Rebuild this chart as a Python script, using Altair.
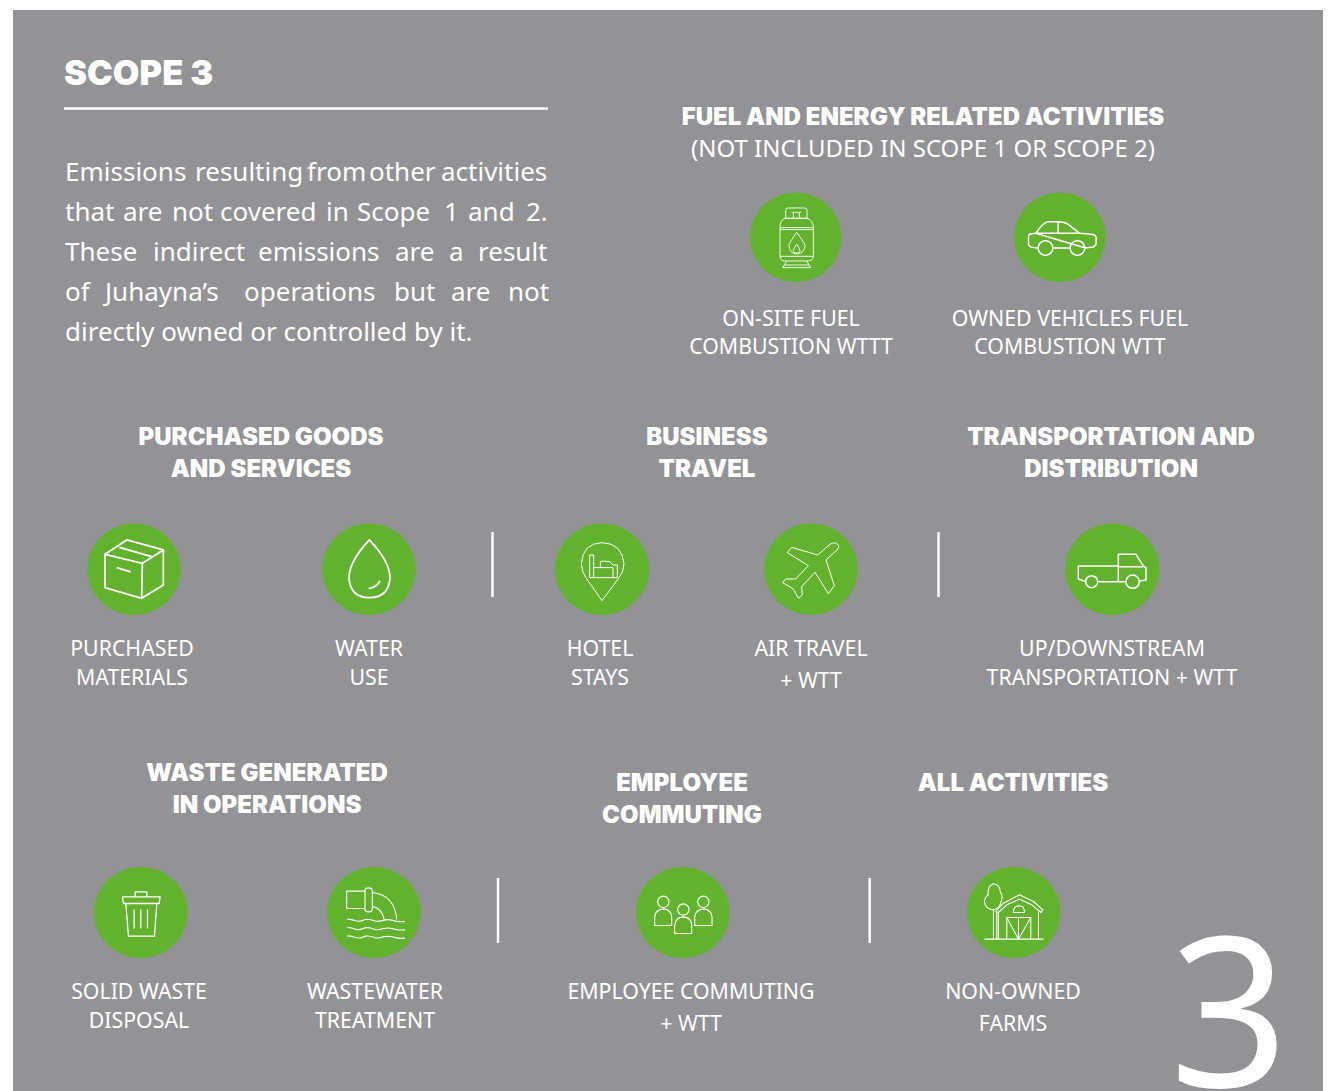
import re
import altair as alt
import pandas as pd

W, H = 1316, 1083
GRAY, GREEN, WHITE = "#939297", "#62B22D", "#FFFFFF"
HEAD_FONT, BODY_FONT = "Inter", "Noto Sans"

panel_x = [13]; panel_x2 = [1323]; panel_y = [10]; panel_y2 = [1091]

head_left = [("SCOPE 3", 64, 75)]
headings = [
    ("FUEL AND ENERGY RELATED ACTIVITIES", 923, 118),
    ("PURCHASED GOODS", 261, 438), ("AND SERVICES", 261, 470),
    ("BUSINESS", 707, 438), ("TRAVEL", 707, 470),
    ("TRANSPORTATION AND", 1111, 438), ("DISTRIBUTION", 1111, 470),
    ("WASTE GENERATED", 267, 774), ("IN OPERATIONS", 267, 806),
    ("EMPLOYEE", 682, 784), ("COMMUTING", 682, 816),
    ("ALL ACTIVITIES", 1013, 784),
]
sub_heading = [("(NOT INCLUDED IN SCOPE 1 OR SCOPE 2)", 923, 150)]
labels = [
    ("ON-SITE FUEL", 791, 320), ("COMBUSTION WTTT", 791, 348),
    ("OWNED VEHICLES FUEL", 1070, 320), ("COMBUSTION WTT", 1070, 348),
    ("PURCHASED", 132, 650), ("MATERIALS", 132, 679),
    ("WATER", 369, 650), ("USE", 369, 679),
    ("HOTEL", 600, 650), ("STAYS", 600, 679),
    ("AIR TRAVEL", 811, 650), ("+ WTT", 811, 682),
    ("UP/DOWNSTREAM", 1112, 650), ("TRANSPORTATION + WTT", 1112, 679),
    ("SOLID WASTE", 139, 993), ("DISPOSAL", 139, 1022),
    ("WASTEWATER", 375, 993), ("TREATMENT", 375, 1022),
    ("EMPLOYEE COMMUTING", 691, 993), ("+ WTT", 691, 1025),
    ("NON-OWNED", 1013, 993), ("FARMS", 1013, 1025),
]
body_words = [
    ("Emissions", 65, 173), ("resulting", 195, 173), ("from", 307, 173), ("other", 369, 173), ("activities", 441, 173),
    ("that", 65, 213), ("are", 123, 213), ("not", 172, 213), ("covered", 220, 213), ("in", 326, 213),
    ("Scope", 357, 213), ("1", 444, 213), ("and", 468, 213), ("2.", 526, 213),
    ("These", 65, 253), ("indirect", 153, 253), ("emissions", 258, 253), ("are", 395, 253), ("a", 449, 253), ("result", 478, 253),
    ("of", 65, 293), ("Juhayna’s", 105, 293), ("operations", 244, 293), ("but", 394, 293), ("are", 451, 293), ("not", 508, 293),
    ("directly owned or controlled by it.", 65, 333),
]
big_digit = [("3", 1229, 1025)]

rule_h = [(64, 548, 108.5)]
rule_v = [(492.5, 532, 597), (938.5, 532, 597), (498, 878, 943), (869.7, 878, 943)]

def circ(cx, cy, r):
    k = 0.5523 * r
    return (f"M{cx-r} {cy} C{cx-r} {cy-k} {cx-k} {cy-r} {cx} {cy-r} "
            f"C{cx+k} {cy-r} {cx+r} {cy-k} {cx+r} {cy} "
            f"C{cx+r} {cy+k} {cx+k} {cy+r} {cx} {cy+r} "
            f"C{cx-k} {cy+r} {cx-r} {cy+k} {cx-r} {cy} Z ")

def wave(y):
    return (f"M787 {y} Q800 {y} 812 {y+5} Q825 {y+9} 840 {y+1} Q855 {y-1} 868 {y+5} "
            f"Q880 {y+9} 895 {y+3} Q910 {y} 922 {y+3} Q935 {y+9} 960 {y+7} ")

# icon outlines, drawn on a 3x grid; (name, centre x, centre y, rx, ry, grid cx, grid cy, line width, path)
icons = [
    ("gas", 795.7, 237.3, 45.7, 44.7, 167, 157, 0.9,
     "M137 100 L137 76 Q137 69 144 69 L194 69 Q201 69 201 76 L201 100 Z M155 82 L183 82 M160 82 L160 98 M178 82 L178 98 "
     "M135 100 L200 100 Q220 105 220 128 L220 215 Q220 226 205 228 L133 228 Q120 226 120 215 L120 128 Q120 105 135 100 Z "
     "M120 128 L220 128 M120 134 L220 134 M120 214 L220 214 "
     "M170 142 Q150 170 147 180 Q147 205 170 207 Q195 205 195 180 Q190 170 170 142 Z "
     "M170 178 Q158 195 160 200 Q170 210 180 200 Q182 195 170 178 Z "
     "M140 228 L128 248 L212 248 L200 228 M133 240 L207 240"),
    ("car", 1059.8, 237.3, 45.7, 44.7, 960, 157, 1.5,
     "M888 145 L870 147 Q866 150 866 160 L866 178 Q868 188 893 189 " + circ(917, 189, 22) +
     "M941 189 L990 189 " + circ(1013, 189, 22) +
     "M1037 189 L1060 186 Q1069 182 1069 175 L1069 158 Q1068 150 1055 148 L1020 145 L985 118 Q975 110 955 110 "
     "L925 110 Q910 112 888 145 Z M888 145 L1020 145 M955 112 L955 145"),
    ("box", 134, 569.3, 46.7, 45.7, 162, 163, 1.8,
     "M75 118 L140 75 L250 105 L187 145 Z M75 118 L75 218 L185 250 L187 145 M185 250 L250 210 L250 105 "
     "M118 97 L215 125 M110 158 L152 171"),
    ("drop", 369, 569.3, 46.7, 45.7, 867, 163, 1.8,
     "M868 75 Q930 140 930 190 Q925 248 868 248 Q812 248 807 190 Q807 140 868 75 Z M866 221 Q890 218 900 198"),
    ("hotel", 602, 569.3, 47, 45.7, 172, 163, 1.0,
     "M172 257 L125 190 Q110 170 110 145 Q115 85 172 83 Q232 85 238 145 Q238 170 222 190 Z "
     "M135 120 L135 188 L147 188 L147 120 Z M147 158 L205 158 L205 188 L147 188 "
     "M167 158 L167 140 Q170 137 195 140 L205 150 L218 150 L218 188 L205 188"),
    ("plane", 811, 569.3, 46.7, 45.7, 798, 163, 1.0,
     "M880 90 Q870 78 855 88 L818 120 L740 97 L727 113 L790 152 L752 192 L722 192 L713 203 L745 222 L760 250 "
     "L772 240 L770 215 L810 172 L850 236 L868 212 L843 135 L878 103 Q884 96 880 90 Z"),
    ("truck", 1112.3, 569.3, 47, 45.7, 547, 163, 1.5,
     "M443 153 L565 153 L565 118 L618 118 L640 153 L648 158 L648 195 L630 198 " + circ(485, 200, 18) + circ(608, 200, 20) +
     "M445 153 L445 192 L467 200 M503 200 L588 200 M565 153 L565 198 M565 155 L640 155"),
    ("bin", 140.8, 912.5, 46.8, 45.5, 167, 157, 1.3,
     "M112 110 L225 110 L222 130 L115 130 Z M150 108 L150 95 L185 95 L185 108 M122 130 L130 228 L208 228 L215 130 "
     "M147 148 L147 205 M167 148 L167 205 M187 148 L187 205"),
    ("pipe", 374, 912.5, 46.8, 45.5, 867, 157, 1.1,
     "M785 93 L840 93 L840 145 L785 145 Z M840 90 Q840 83 850 83 Q862 83 862 90 L862 148 Q862 155 850 155 Q840 155 840 148 Z "
     "M862 97 Q930 105 935 178 M862 138 Q892 145 898 180 " + wave(177) + wave(202) + wave(227)),
    ("people", 682.7, 912.5, 46.7, 45.5, 172, 157, 1.1,
     circ(114, 125, 17) + "M88 196 L88 170 Q90 148 114 146 Q138 148 139 170 L139 196 Z " +
     circ(234, 125, 17) + "M208 196 L208 170 Q210 148 234 146 Q258 148 260 170 L260 196 Z " +
     circ(174, 148, 17) + "M148 220 L148 195 Q150 172 174 170 Q198 172 199 195 L199 220 Z"),
    ("barn", 1013.8, 912.5, 46.8, 45.5, 1166, 158, 1.1,
     "M1078 238 L1255 238 M1105 150 Q1080 148 1078 125 Q1080 110 1090 105 Q1085 80 1105 72 Q1125 75 1125 95 "
     "Q1135 110 1128 125 Q1125 145 1105 150 Z M1105 150 L1105 238 M1115 155 L1115 238 "
     "M1112 155 L1135 130 L1183 105 L1225 125 L1253 150 L1248 158 L1220 135 L1183 118 L1145 135 L1120 158 Z "
     "M1120 158 L1120 238 M1240 155 L1240 238 M1145 173 L1217 173 L1217 238 L1145 238 Z "
     "M1145 173 L1180 238 L1217 173 M1180 173 L1180 238 M1165 158 Q1165 138 1182 138 Q1198 138 1198 158 Z"),
]

def recentre(path, gx, gy):
    """Move an outline from its 3x grid to 1x units around the circle centre."""
    idx = [0]
    def f(m):
        v = float(m.group())
        c = gx if idx[0] % 2 == 0 else gy
        idx[0] += 1
        return f"{(v - c) / 3:.2f}"
    return re.sub(r"-?\d+\.?\d*", f, path)

def ellipse(rx, ry):
    kx, ky = 0.5523 * rx, 0.5523 * ry
    return (f"M{-rx} 0 C{-rx} {-ky} {-kx} {-ry} 0 {-ry} C{kx} {-ry} {rx} {-ky} {rx} 0 "
            f"C{rx} {ky} {kx} {ry} 0 {ry} C{-kx} {ry} {-rx} {ky} {-rx} 0 Z")

X_SCALE = alt.Scale(domain=[8, 8 + W], range=[0, W], nice=False, zero=False)
Y_SCALE = alt.Scale(domain=[8 + H, 8], range=[H, 0], nice=False, zero=False)
X = alt.X("x:Q", scale=X_SCALE, axis=None)
Y = alt.Y("y:Q", scale=Y_SCALE, axis=None)

def text_layer(rows, **mark):
    df = pd.DataFrame(rows, columns=["t", "x", "y"])
    return alt.Chart(df).mark_text(color=WHITE, baseline="middle", clip=True, **mark).encode(
        x=X, y=Y, text="t:N")

panel = alt.Chart(pd.DataFrame({"x": panel_x, "x2": panel_x2, "y": panel_y, "y2": panel_y2})).mark_rect(
    color=GRAY, clip=True).encode(x=X, x2="x2:Q", y=Y, y2="y2:Q")

hr = alt.Chart(pd.DataFrame(rule_h, columns=["x", "x2", "y"])).mark_rule(color=WHITE, strokeWidth=2.5).encode(
    x=X, x2="x2:Q", y=Y)
vr = alt.Chart(pd.DataFrame(rule_v, columns=["x", "y", "y2"])).mark_rule(color=WHITE, strokeWidth=2.5).encode(
    x=X, y=Y, y2="y2:Q")

disc_df = pd.DataFrame([{"x": i[1], "y": i[2], "p": ellipse(i[3], i[4])} for i in icons])
discs = alt.Chart(disc_df).mark_point(filled=True, fill=GREEN, stroke=None, opacity=1, size=4).encode(
    x=X, y=Y, shape=alt.Shape("p:N", scale=None))

glyphs = []
for name, cx, cy, rx, ry, gx, gy, lw, path in icons:
    df = pd.DataFrame([{"x": cx, "y": cy, "p": recentre(path, gx, gy)}])
    glyphs.append(alt.Chart(df).mark_point(filled=False, stroke=WHITE, strokeWidth=lw, opacity=1, size=4,
                                           strokeJoin="round").encode(
        x=X, y=Y, shape=alt.Shape("p:N", scale=None)))

chart = alt.layer(
    panel, hr, vr, discs, *glyphs,
    text_layer(head_left, font=HEAD_FONT, fontWeight=900, fontSize=34.5, align="left"),
    text_layer(headings, font=HEAD_FONT, fontWeight=900, fontSize=24, align="center"),
    text_layer(sub_heading, font=BODY_FONT, fontWeight=400, fontSize=24, align="center"),
    text_layer(labels, font=BODY_FONT, fontWeight=400, fontSize=21.3, align="center"),
    text_layer(body_words, font=BODY_FONT, fontWeight=400, fontSize=26, align="left"),
    text_layer(big_digit, font=BODY_FONT, fontWeight=400, fontSize=208, align="center"),
).properties(
    width=W, height=H, padding=0, autosize=alt.AutoSizeParams(type="none"), background="#FFFFFF"
).configure_view(stroke=None)

chart.save("out.html", embed_options={"renderer": "svg", "actions": False})
